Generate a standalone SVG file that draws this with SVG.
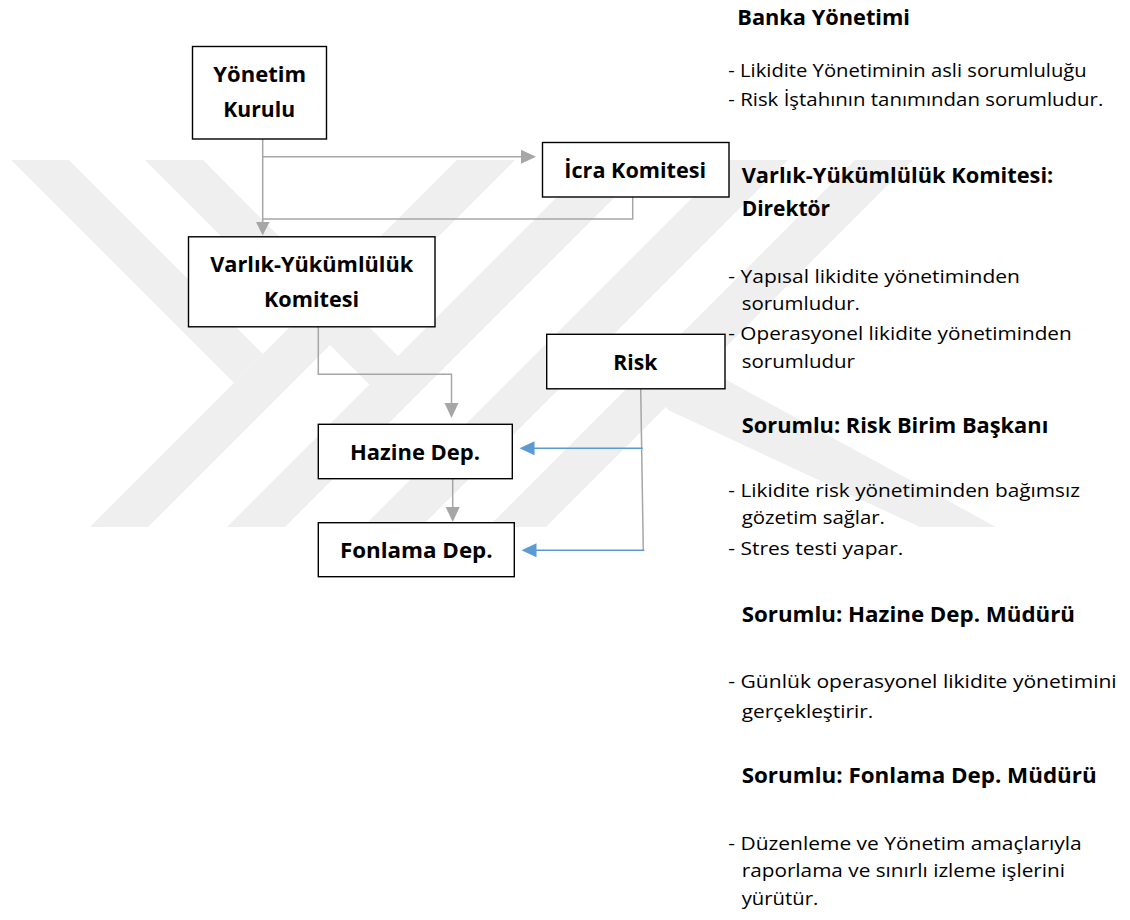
<svg xmlns="http://www.w3.org/2000/svg" width="1130" height="920" viewBox="0 0 1130 920">
<defs>
<style>
.wm{fill:#efefef;stroke:none}
.box{fill:#ffffff;stroke:#000000;stroke-width:1.4}
.nt{font-family:"Open Sans","Liberation Sans",sans-serif;font-weight:bold;font-size:21.5px;fill:#000;text-anchor:middle}
.hd{font-family:"Open Sans","Liberation Sans",sans-serif;font-weight:bold;font-size:22px;fill:#000}
.bd{font-family:"Open Sans","Liberation Sans",sans-serif;font-size:18.5px;fill:#000}
.gl{fill:none;stroke:#a6a6a6;stroke-width:1.5}
.bl{fill:none;stroke:#5b9bd5;stroke-width:1.5}
.ga{fill:#a6a6a6}
.ba{fill:#5b9bd5}
</style>
</defs>
<rect x="0" y="0" width="1130" height="920" fill="#ffffff"/>
<g id="watermark">
<polygon class="wm" points="457,160 515,160 148,527 90,527"/>
<polygon class="wm" points="11,160 69,160 263,354 234,383"/>
<polygon class="wm" points="594,160 652,160 285,527 227,527"/>
<polygon class="wm" points="145,160 203,160 398,356 370,385"/>
<polygon class="wm" points="730,160 788,160 421,527 363,527"/>
<polygon class="wm" points="855,160 913,160 546,527 488,527"/>
<polygon class="wm" points="650,378 690,360 996,527 920,527 668,410"/>
</g>
<g id="connectors">
<line class="gl" x1="262.7" y1="139" x2="262.7" y2="222"/>
<polygon class="ga" points="256,222 269.5,222 262.7,235.5"/>
<line class="gl" x1="262.7" y1="156.7" x2="521" y2="156.7"/>
<polygon class="ga" points="521,149.7 521,163.7 536,156.7"/>
<polyline class="gl" points="632.7,197 632.7,219 262.7,219"/>
<polyline class="gl" points="318.3,327 318.3,374.3 451.5,374.3 451.5,404"/>
<polygon class="ga" points="444.5,403 458.5,403 451.5,418"/>
<line class="gl" x1="452.7" y1="479" x2="452.7" y2="507"/>
<polygon class="ga" points="445.7,507 459.7,507 452.7,522"/>
<line class="gl" x1="640.7" y1="389" x2="643.3" y2="551"/>
<line class="bl" x1="642.7" y1="448.3" x2="533" y2="448.3"/>
<polygon class="ba" points="534.5,441.3 534.5,455.3 519.5,448.3"/>
<line class="bl" x1="644.3" y1="550.3" x2="535" y2="550.3"/>
<polygon class="ba" points="536.5,543.3 536.5,557.3 521.5,550.3"/>
</g>
<g id="node-yonetim-kurulu">
<rect class="box" x="192.5" y="46.5" width="134" height="92.5"/>
<text class="nt" x="259.7" y="82.3" textLength="92.7" lengthAdjust="spacingAndGlyphs">Yönetim</text>
<text class="nt" x="259.2" y="116.7" textLength="71.7" lengthAdjust="spacingAndGlyphs">Kurulu</text>
</g>
<g id="node-icra-komitesi">
<rect class="box" x="542.5" y="142.5" width="186.5" height="54.5"/>
<text class="nt" x="635.2" y="178.3" textLength="141.7" lengthAdjust="spacingAndGlyphs">İcra Komitesi</text>
</g>
<g id="node-varlik-yukumluluk">
<rect class="box" x="188.5" y="236.8" width="246.5" height="90"/>
<text class="nt" x="311.7" y="271.7" textLength="203" lengthAdjust="spacingAndGlyphs">Varlık-Yükümlülük</text>
<text class="nt" x="311.5" y="306.7" textLength="95" lengthAdjust="spacingAndGlyphs">Komitesi</text>
</g>
<g id="node-risk">
<rect class="box" x="546.7" y="334.3" width="178.3" height="54.5"/>
<text class="nt" x="635.3" y="370" textLength="44" lengthAdjust="spacingAndGlyphs">Risk</text>
</g>
<g id="node-hazine">
<rect class="box" x="318.3" y="424.3" width="194" height="54.4"/>
<text class="nt" x="415" y="460" textLength="130" lengthAdjust="spacingAndGlyphs">Hazine Dep.</text>
</g>
<g id="node-fonlama">
<rect class="box" x="318.3" y="522.7" width="196" height="54"/>
<text class="nt" x="416.3" y="558.3" textLength="152.7" lengthAdjust="spacingAndGlyphs">Fonlama Dep.</text>
</g>
<g id="descriptions">
<text class="hd" x="737.3" y="25" textLength="172.7" lengthAdjust="spacingAndGlyphs">Banka Yönetimi</text>
<text class="bd" x="728.3" y="77.3" textLength="358.4" lengthAdjust="spacingAndGlyphs">- Likidite Yönetiminin asli sorumluluğu</text>
<text class="bd" x="728.3" y="106" textLength="375" lengthAdjust="spacingAndGlyphs">- Risk İştahının tanımından sorumludur.</text>
<text class="hd" x="741.7" y="183.3" textLength="311.6" lengthAdjust="spacingAndGlyphs">Varlık-Yükümlülük Komitesi:</text>
<text class="hd" x="741.7" y="216" textLength="88.3" lengthAdjust="spacingAndGlyphs">Direktör</text>
<text class="bd" x="728.3" y="283" textLength="291.7" lengthAdjust="spacingAndGlyphs">- Yapısal likidite yönetiminden</text>
<text class="bd" x="741.7" y="310" textLength="118.3" lengthAdjust="spacingAndGlyphs">sorumludur.</text>
<text class="bd" x="728.3" y="340" textLength="343.4" lengthAdjust="spacingAndGlyphs">- Operasyonel likidite yönetiminden</text>
<text class="bd" x="741.7" y="368" textLength="113.3" lengthAdjust="spacingAndGlyphs">sorumludur</text>
<text class="hd" x="741.7" y="433.3" textLength="306.6" lengthAdjust="spacingAndGlyphs">Sorumlu: Risk Birim Başkanı</text>
<text class="bd" x="728.3" y="496.7" textLength="351.7" lengthAdjust="spacingAndGlyphs">- Likidite risk yönetiminden bağımsız</text>
<text class="bd" x="741.7" y="524" textLength="143.3" lengthAdjust="spacingAndGlyphs">gözetim sağlar.</text>
<text class="bd" x="728.3" y="555" textLength="175" lengthAdjust="spacingAndGlyphs">- Stres testi yapar.</text>
<text class="hd" x="741.7" y="621.7" textLength="333.3" lengthAdjust="spacingAndGlyphs">Sorumlu: Hazine Dep. Müdürü</text>
<text class="bd" x="728.3" y="688.3" textLength="388.4" lengthAdjust="spacingAndGlyphs">- Günlük operasyonel likidite yönetimini</text>
<text class="bd" x="741.7" y="718.3" textLength="131.6" lengthAdjust="spacingAndGlyphs">gerçekleştirir.</text>
<text class="hd" x="741.7" y="783.3" textLength="355" lengthAdjust="spacingAndGlyphs">Sorumlu: Fonlama Dep. Müdürü</text>
<text class="bd" x="728.3" y="850" textLength="353.4" lengthAdjust="spacingAndGlyphs">- Düzenleme ve Yönetim amaçlarıyla</text>
<text class="bd" x="741.7" y="876.7" textLength="323.3" lengthAdjust="spacingAndGlyphs">raporlama ve sınırlı izleme işlerini</text>
<text class="bd" x="741.7" y="905" textLength="76.6" lengthAdjust="spacingAndGlyphs">yürütür.</text>
</g>
</svg>
